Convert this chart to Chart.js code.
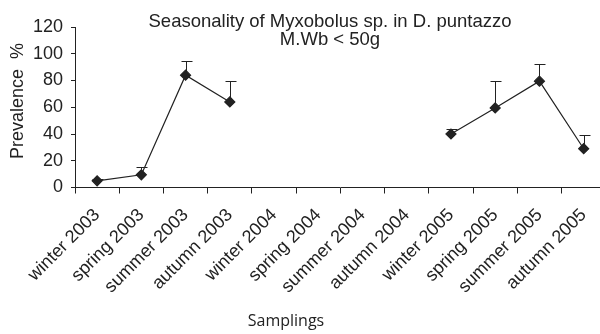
<!DOCTYPE html>
<html>
<head>
<meta charset="utf-8">
<script src="https://cdn.jsdelivr.net/npm/chart.js@4.4.0/dist/chart.umd.min.js"></script>
<style>
  html, body { margin: 0; padding: 0; background: #fff; overflow: hidden; }
  #wrap { width: 612px; height: 334px; position: relative; }
</style>
</head>
<body>
<div id="wrap"><canvas id="myChart"></canvas></div>
<script>
// sampling seasons
const samplings = ['winter 2003', 'spring 2003', 'summer 2003', 'autumn 2003',
  'winter 2004', 'spring 2004', 'summer 2004', 'autumn 2004',
  'winter 2005', 'spring 2005', 'summer 2005', 'autumn 2005'];
// prevalence %, no samples in 2004
const prevalence = [5, 9.5, 84, 64, null, null, null, null, 40, 59.5, 79.5, 29];
// top of the error bars (upper side only)
const errorTop = [6.5, 15, 94.5, 80, null, null, null, null, 44, 80, 92, 39.5];
const yTicks = [0, 20, 40, 60, 80, 100, 120];

const ink = '#222';
const font = '"Liberation Sans", Arial, sans-serif';

const errorBars = {
  id: 'errorBars',
  afterDatasetsDraw(chart) {
    const ctx = chart.ctx;
    const x = chart.scales.x, y = chart.scales.y;
    ctx.save();
    ctx.strokeStyle = ink;
    ctx.lineWidth = 1;
    prevalence.forEach((v, i) => {
      if (v == null || errorTop[i] == null) return;
      const px = Math.round(x.getPixelForValue(i)) + 0.5;
      const y0 = y.getPixelForValue(v);
      const y1 = Math.round(y.getPixelForValue(errorTop[i])) + 0.5;
      ctx.beginPath();
      ctx.moveTo(px, y0);
      ctx.lineTo(px, y1);
      ctx.moveTo(px - 5, y1);
      ctx.lineTo(px + 6, y1);
      ctx.stroke();
    });
    ctx.restore();
  }
};

// titles are drawn by hand, the original is not centred on the plot
const texts = {
  id: 'texts',
  afterDraw(chart) {
    const ctx = chart.ctx;
    ctx.save();
    ctx.fillStyle = ink;
    ctx.textAlign = 'center';
    ctx.textBaseline = 'alphabetic';
    ctx.font = '18.5px ' + font;
    ctx.fillText('Seasonality of Myxobolus sp. in D. puntazzo', 330, 27);
    ctx.fillText('M.Wb < 50g', 330, 45);
    ctx.font = '16px "Open Sans", sans-serif';
    ctx.textBaseline = 'middle';
    ctx.fillText('Samplings', 286, 321);
    ctx.translate(18, 101);
    ctx.rotate(-Math.PI / 2);
    ctx.font = '18px ' + font;
    ctx.fillText('Prevalence  %', 0, 0);
    ctx.restore();
  }
};

const ctx = document.getElementById('myChart').getContext('2d');
const myChart = new Chart(ctx, {
  type: 'line',
  data: {
    labels: samplings,
    datasets: [{
      data: prevalence,
      borderColor: ink,
      borderWidth: 1.2,
      backgroundColor: ink,
      pointStyle: 'rectRot',
      pointRadius: 5,
      pointBackgroundColor: ink,
      pointBorderColor: ink,
      spanGaps: false,
      tension: 0
    }]
  },
  options: {
    responsive: true,
    maintainAspectRatio: false,
    animation: false,
    layout: { padding: { top: 27, right: 2, bottom: 0, left: 0 } },
    plugins: {
      legend: { display: false },
      tooltip: { enabled: false },
      title: { display: false }
    },
    scales: {
      x: {
        offset: true,
        grid: { display: true, drawOnChartArea: false, drawTicks: true, tickLength: 6, color: ink, offset: true },
        border: { display: true, color: ink, width: 1 },
        ticks: {
          color: ink,
          maxRotation: 45,
          minRotation: 45,
          autoSkip: false,
          padding: 11,
          font: { family: font, size: 18 }
        },
        title: { display: false },
        afterFit(scale) { scale.height = 146.5; }
      },
      y: {
        min: 0,
        max: 120,
        afterBuildTicks(scale) { scale.ticks = yTicks.map(v => ({ value: v })); },
        grid: { display: true, drawOnChartArea: false, drawTicks: true, tickLength: 4, color: ink },
        border: { display: true, color: ink, width: 1 },
        ticks: {
          color: ink,
          padding: 8,
          font: { family: font, size: 18 }
        },
        title: { display: false },
        afterFit(scale) { scale.width = 75; }
      }
    }
  },
  plugins: [errorBars, texts]
});
</script>
</body>
</html>
